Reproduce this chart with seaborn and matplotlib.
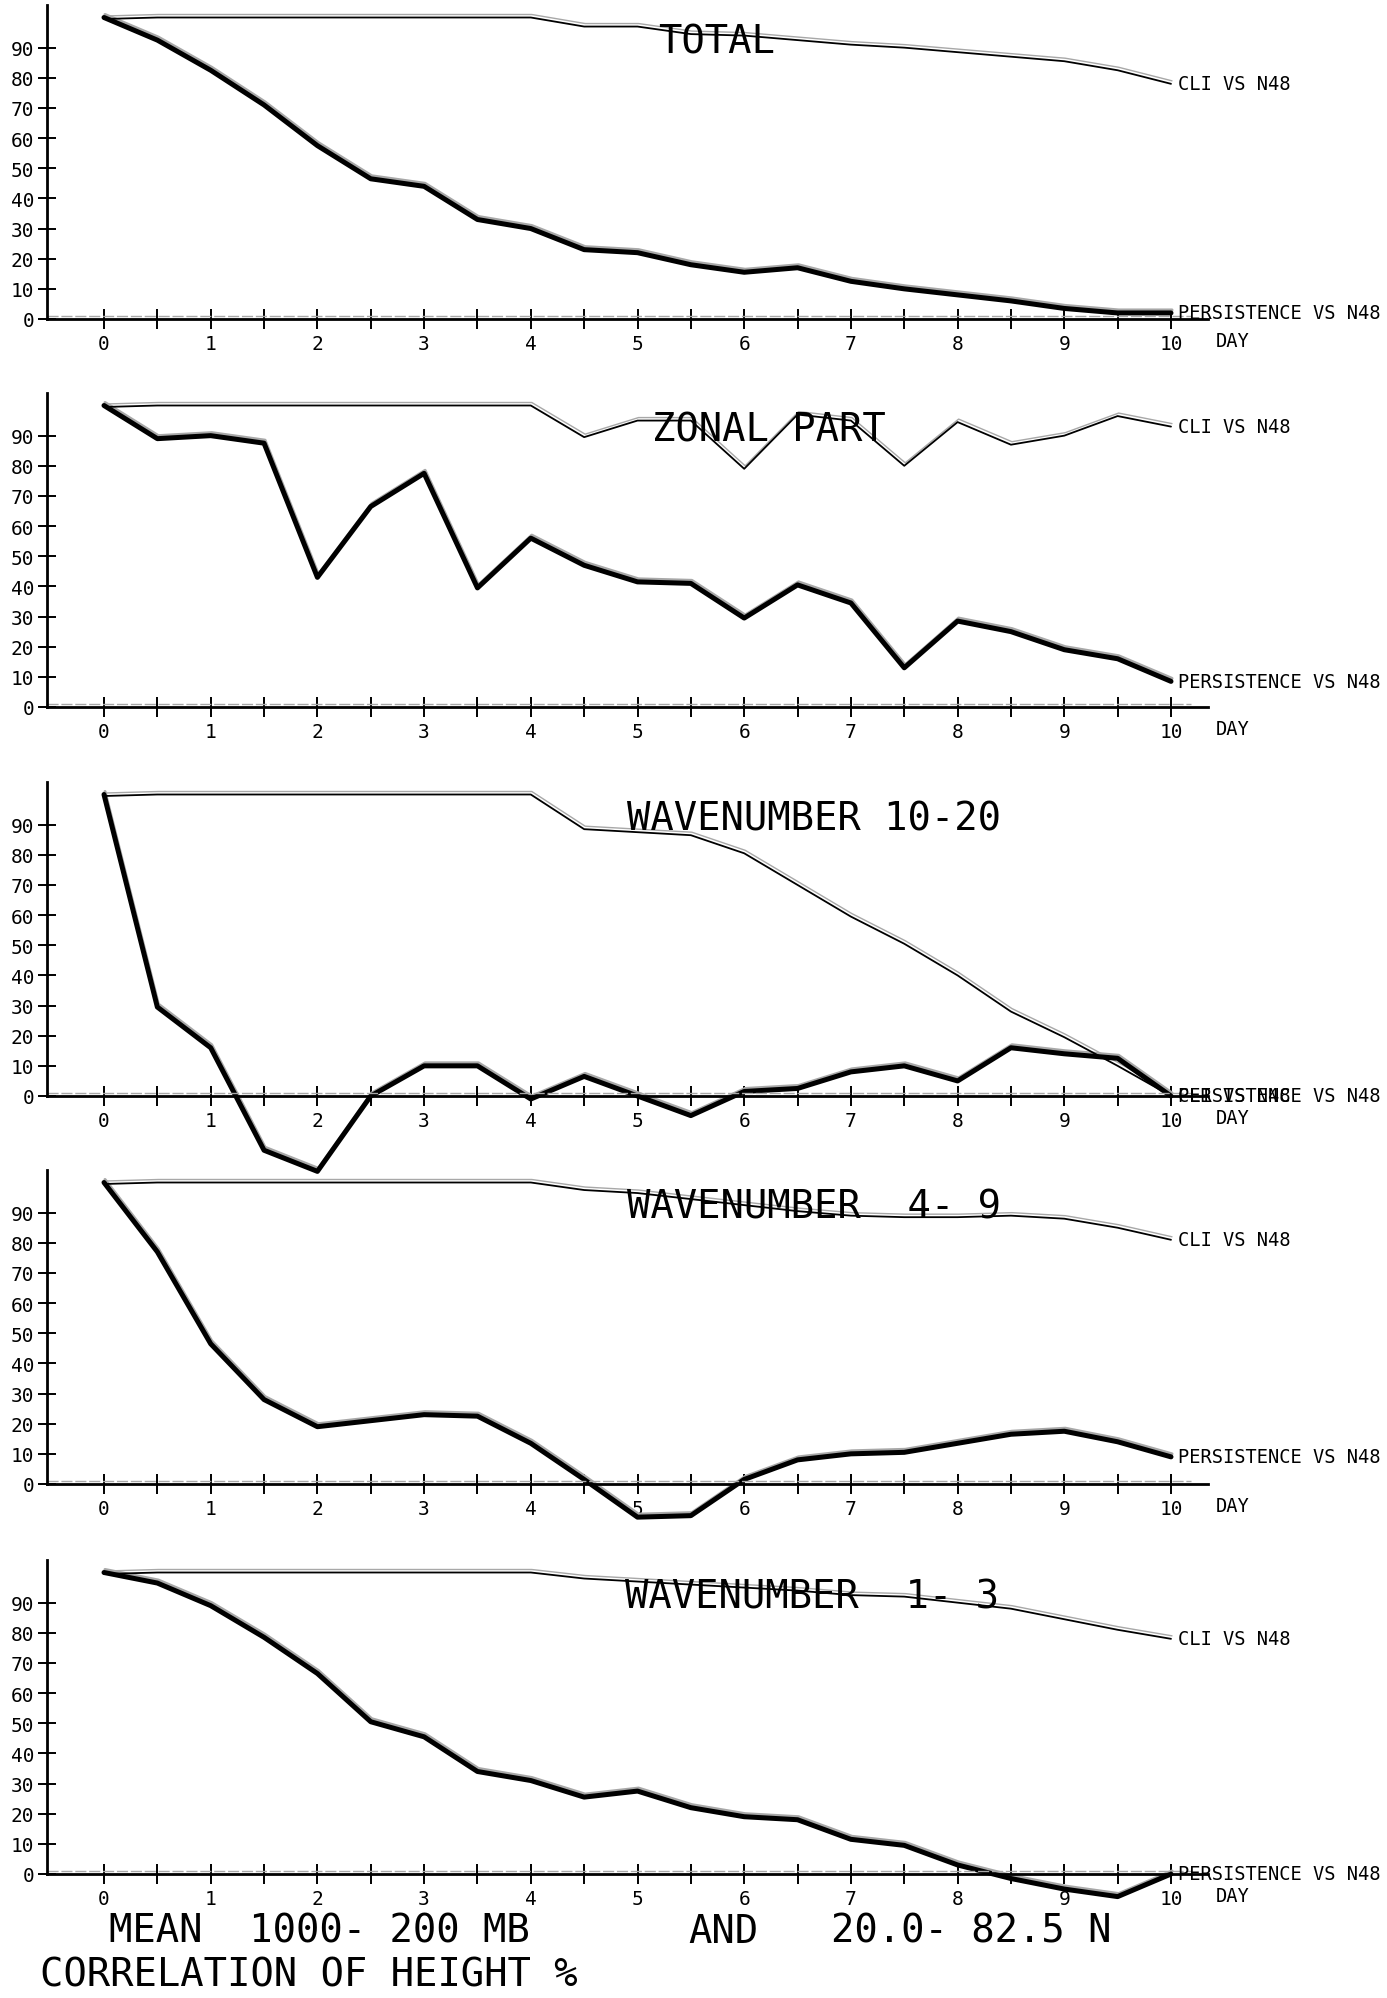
import matplotlib
matplotlib.use("Agg")
import pandas as pd
import matplotlib.pyplot as plt
from matplotlib.transforms import offset_copy
import seaborn as sns

# forecast day (every half day)
days = [0, 0.5, 1, 1.5, 2, 2.5, 3, 3.5, 4, 4.5, 5,
        5.5, 6, 6.5, 7, 7.5, 8, 8.5, 9, 9.5, 10]

# correlation of height (%)
total_cli = [99.5, 100, 100, 100, 100, 100, 100, 100, 100, 97, 97,
             94.5, 94, 92.5, 91, 90, 88.5, 87, 85.5, 82.5, 78]
total_pers = [100, 92.5, 82.5, 71, 57.5, 46.5, 44, 33, 30, 23, 22,
              18, 15.5, 17, 12.5, 10, 8, 6, 3.5, 2, 2]

zonal_cli = [99.5, 100, 100, 100, 100, 100, 100, 100, 100, 89.5, 95,
             95, 79, 97, 95, 80, 94.5, 87, 90, 96.5, 93]
zonal_pers = [100, 89, 90, 87.5, 43, 66.5, 77.5, 39.5, 56, 47, 41.5,
              41, 29.5, 40.5, 34.5, 13, 28.5, 25, 19, 16, 8.5]

wn1020_cli = [99.5, 100, 100, 100, 100, 100, 100, 100, 100, 88.5, 87.5,
              86.5, 80.5, 70, 59.5, 50.5, 40, 28, 19.5, 10, 0]
wn1020_pers = [100, 29.5, 16, -18, -25, 0, 10, 10, -1, 6.5, 0,
               -6.5, 1.5, 2.5, 8, 10, 5, 16, 14, 12.5, 0]

wn49_cli = [99.5, 100, 100, 100, 100, 100, 100, 100, 100, 97.5, 96.5,
            94.5, 92.5, 90.5, 89, 88.5, 88.5, 89, 88, 85, 81]
wn49_pers = [100, 77, 46.5, 28, 19, 21, 23, 22.5, 13.5, 1.5, -11,
             -10.5, 1.5, 8, 10, 10.5, 13.5, 16.5, 17.5, 14, 9]

wn13_cli = [99.5, 100, 100, 100, 100, 100, 100, 100, 100, 98, 97,
            96, 95, 94, 92.5, 92, 90, 88, 84.5, 81, 78]
wn13_pers = [100, 96.5, 89, 78.5, 66.5, 50.5, 45.5, 34, 31, 25.5, 27.5,
             22, 19, 18, 11.5, 9.5, 3, -1.5, -5, -7.5, 0]

titles = ["TOTAL", "ZONAL PART", "WAVENUMBER 10-20",
          "WAVENUMBER  4- 9", "WAVENUMBER  1- 3"]
y_ticks = [0, 10, 20, 30, 40, 50, 60, 70, 80, 90]
x_ticks = [0, 1, 2, 3, 4, 5, 6, 7, 8, 9, 10]

panels = [
    (titles[0], total_cli, total_pers, 5.19),
    (titles[1], zonal_cli, zonal_pers, 5.14),
    (titles[2], wn1020_cli, wn1020_pers, 4.9),
    (titles[3], wn49_cli, wn49_pers, 4.9),
    (titles[4], wn13_cli, wn13_pers, 4.88),
]

sns.set_theme(style="white")
plt.rcParams['font.family'] = ['DejaVu Sans Mono', 'DejaVu Sans']
plt.rcParams['text.color'] = 'black'
plt.rcParams['xtick.color'] = 'black'
plt.rcParams['ytick.color'] = 'black'

W, H = 1387, 1999
fig = plt.figure(figsize=(W / 100, H / 100), dpi=100)

# pixel geometry of the plotter frames
px_day = 106.7
px_unit = 3.015
xlim = (-0.53, 10.35)
ylim = (-30, 104)
left_px = 104 + xlim[0] * px_day
zeros_px = [320, 708, 1097, 1485, 1875]

ghost = '#a8a8a8'

for (title, cli, pers, tx), z in zip(panels, zeros_px):
    w_px = (xlim[1] - xlim[0]) * px_day
    h_px = (ylim[1] - ylim[0]) * px_unit
    bottom_px = z - ylim[0] * px_unit
    ax = fig.add_axes([left_px / W, 1 - bottom_px / H, w_px / W, h_px / H])
    ax.patch.set_visible(False)

    df = pd.DataFrame({'day': days, 'cli': cli, 'pers': pers})
    shade = offset_copy(ax.transData, fig=fig, x=1, y=3, units='dots')

    # faint double print of each trace, as on the scanned sheet
    sns.lineplot(data=df, x='day', y='cli', ax=ax, color=ghost, lw=1.0,
                 estimator=None, transform=shade)
    sns.lineplot(data=df, x='day', y='pers', ax=ax, color=ghost, lw=2.2,
                 estimator=None, transform=shade)
    sns.lineplot(data=df, x='day', y='cli', ax=ax, color='black', lw=1.3,
                 estimator=None)
    sns.lineplot(data=df, x='day', y='pers', ax=ax, color='black', lw=3.6,
                 estimator=None)
    ax.axhline(1, color=ghost, lw=1.0, ls=(0, (8, 2)), xmax=0.985)

    ax.set_xlim(*xlim)
    ax.set_ylim(*ylim)
    ax.set_xlabel('')
    ax.set_ylabel('')

    ax.set_xticks(x_ticks)
    ax.set_xticklabels([str(t) for t in x_ticks])
    ax.set_xticks([t + 0.5 for t in x_ticks[:-1]], minor=True)
    ax.set_yticks(y_ticks)
    ax.set_yticklabels([str(t) for t in y_ticks])
    ax.tick_params(axis='x', which='both', direction='inout', length=15,
                   width=1.4, color='black', labelsize=14, pad=3,
                   bottom=True)
    ax.tick_params(axis='y', direction='inout', length=13, width=1.4,
                   color='black', labelsize=14, pad=3, left=True)

    for s in ['top', 'right']:
        ax.spines[s].set_visible(False)
    ax.spines['bottom'].set_position(('data', 0))
    ax.spines['bottom'].set_linewidth(2)
    ax.spines['bottom'].set_color('black')
    ax.spines['left'].set_bounds(0, ylim[1])
    ax.spines['left'].set_linewidth(2)
    ax.spines['left'].set_color('black')

    ax.text(tx, 88.5, title, fontsize=28, va='baseline', ha='left')
    ax.text(10.07, cli[-1], "CLI VS N48", fontsize=13.5, va='center',
            ha='left')
    ax.text(10.07, pers[-1], "PERSISTENCE VS N48", fontsize=13.5,
            va='center', ha='left')
    ax.text(10.42, -7, "DAY", fontsize=13.5, va='center', ha='left')

fig.text(109 / W, 1 - 1943 / H, "MEAN  1000- 200 MB", fontsize=28,
         va='baseline')
fig.text(688 / W, 1 - 1943 / H, "AND", fontsize=28, va='baseline')
fig.text(831 / W, 1 - 1943 / H, "20.0- 82.5 N", fontsize=28, va='baseline')
fig.text(40 / W, 1 - 1987 / H, "CORRELATION OF HEIGHT %", fontsize=28,
         va='baseline')

plt.savefig('out.png', dpi=100)
